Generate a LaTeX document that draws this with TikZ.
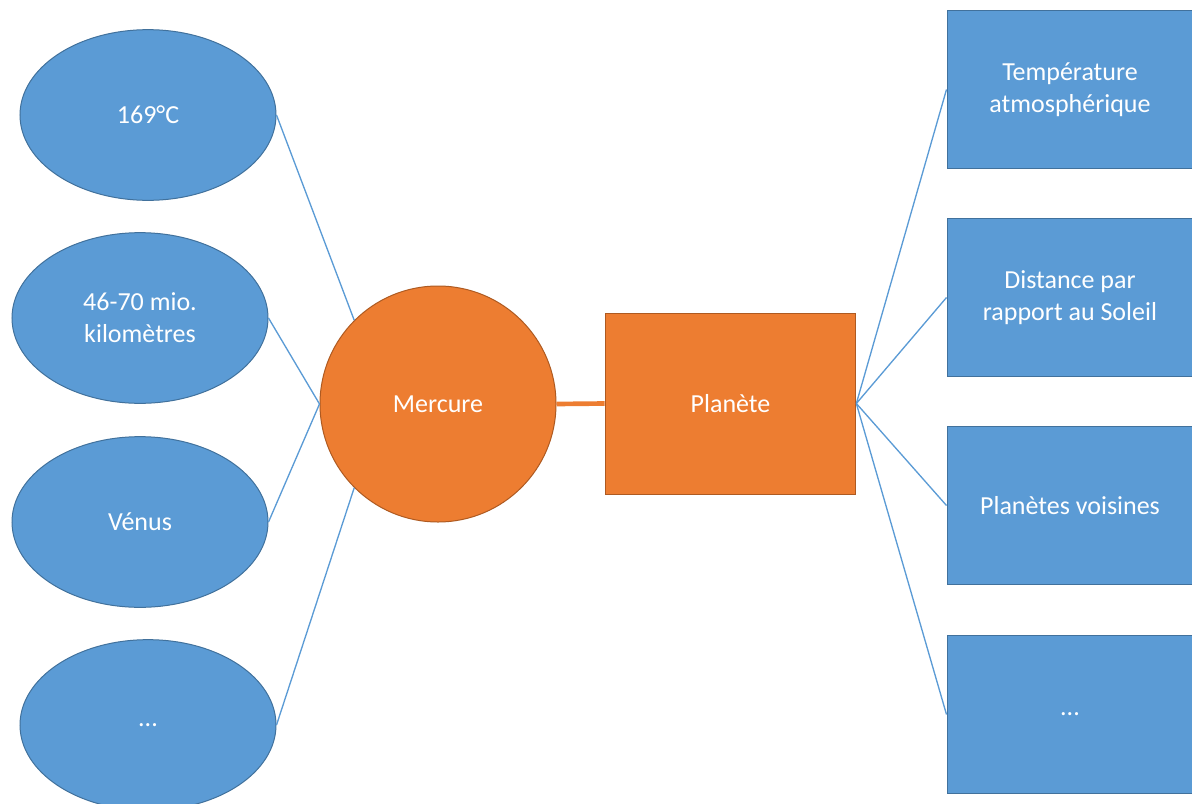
\documentclass[tikz,border=0pt]{standalone}
\usepackage{fontspec}
\setmainfont{Carlito}
\usetikzlibrary{shapes.geometric}
\definecolor{bluefill}{HTML}{5B9BD5}
\definecolor{blueline}{HTML}{41719C}
\definecolor{orangefill}{HTML}{ED7D31}
\definecolor{orangeline}{HTML}{AE5A21}
\tikzset{
  every node/.style={font=\fontsize{19.5}{24}\selectfont, text=white, align=center},
  oval/.style={ellipse, fill=bluefill, draw=blueline, line width=0.75pt, minimum width=192pt, minimum height=128pt, inner sep=0pt},
  infobox/.style={rectangle, fill=bluefill, draw=blueline, line width=0.75pt, minimum width=184.5pt, minimum height=118pt, inner sep=0pt},
  planet/.style={circle, fill=orangefill, draw=orangeline, line width=0.75pt, minimum size=177pt, inner sep=0pt},
  catbox/.style={rectangle, fill=orangefill, draw=orangeline, line width=0.75pt, minimum width=188pt, minimum height=135.75pt, inner sep=0pt},
  link/.style={draw=bluefill, line width=1pt},
  mainlink/.style={draw=orangefill, line width=3.5pt}
}
\begin{document}
\begin{tikzpicture}[x=0.75pt,y=-0.75pt]
\useasboundingbox (0,0) rectangle (1192,803);
\node[oval] (e1) at (148,115) {169°C};
\node[oval] (e2) at (140,318) {46-70 mio.\\kilomètres};
\node[oval] (e3) at (140,522) {Vénus};
\node[oval] (e4) at (148,725) {...};
\node[planet] (m) at (438,404) {Mercure};
\node[catbox] (p) at (730.5,403.5) {Planète};
\node[infobox] (r1) at (1070,89.5) {Température\\atmosphérique};
\node[infobox] (r2) at (1070,297.5) {Distance par\\rapport au Soleil};
\node[infobox] (r3) at (1070,505.5) {Planètes voisines};
\node[infobox] (r4) at (1070,714.5) {...};
\draw[link] (e1.east) -- (m.north west);
\draw[link] (e2.east) -- (m.west);
\draw[link] (e3.east) -- (m.west);
\draw[link] (e4.east) -- (m.south west);
\draw[mainlink] (m.east) -- (p.west);
\draw[link] (p.east) -- (r1.west);
\draw[link] (p.east) -- (r2.west);
\draw[link] (p.east) -- (r3.west);
\draw[link] (p.east) -- (r4.west);
\end{tikzpicture}
\end{document}
